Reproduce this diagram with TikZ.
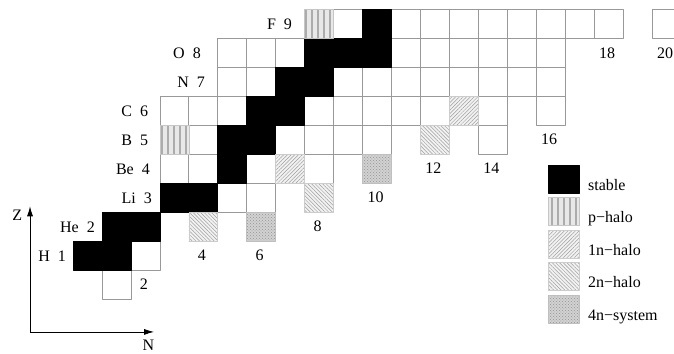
\documentclass[tikz,border=0pt]{standalone}
\usepackage{fontspec}
\setmainfont{Liberation Serif}
\usetikzlibrary{arrows.meta,patterns,patterns.meta}

\begin{document}
\begin{tikzpicture}[
    x=28.95pt,
    y=28.95pt,
    font=\fontsize{16}{19}\selectfont,
    line join=round,
    emptycell/.style={draw=gray!80, line width=0.7pt, fill=white},
    stablecell/.style={draw=black, line width=0.7pt, fill=black},
    phalo/.style={draw=gray!45, line width=0.6pt, preaction={fill=gray!18},
        pattern={Lines[angle=90,distance=6pt,line width=1.8pt]}, pattern color=gray!65},
    onehalo/.style={draw=gray!40, line width=0.6pt, preaction={fill=gray!10},
        pattern={Lines[angle=45,distance=2.6pt,line width=0.5pt]}, pattern color=gray!75},
    twohalo/.style={draw=gray!40, line width=0.6pt, preaction={fill=gray!10},
        pattern={Lines[angle=-45,distance=2.6pt,line width=0.5pt]}, pattern color=gray!75},
    fournsys/.style={draw=gray!50, line width=0.6pt, preaction={fill=gray!35},
        pattern=crosshatch dots, pattern color=gray!85}
]
    \clip (-2.522,-1.902) rectangle (20.76,10.326);

    % 空格子 (N/Z)
    \foreach \n/\z in {1/0, 2/1, 5/3, 6/3, 3/4, 4/4, 6/4, 8/4,
        4/5, 7/5, 8/5, 9/5, 10/5, 14/5,
        3/6, 4/6, 5/6, 8/6, 9/6, 10/6, 11/6, 12/6, 14/6, 16/6,
        5/7, 6/7, 9/7, 10/7, 11/7, 12/7, 13/7, 14/7, 15/7, 16/7,
        5/8, 6/8, 7/8, 11/8, 12/8, 13/8, 14/8, 15/8, 16/8,
        9/9, 11/9, 12/9, 13/9, 14/9, 15/9, 16/9, 17/9, 18/9, 20/9}
        \draw[emptycell] (\n,\z) rectangle ++(1,1);

    % 稳定核
    \foreach \n/\z in {0/1, 1/1, 1/2, 2/2, 3/3, 4/3, 5/4, 5/5, 6/5,
        6/6, 7/6, 7/7, 8/7, 8/8, 9/8, 10/8, 10/9}
        \draw[stablecell] (\n,\z) rectangle ++(1,1);

    % 晕核
    \foreach \n/\z in {3/5, 8/9} \draw[phalo] (\n,\z) rectangle ++(1,1);
    \foreach \n/\z in {7/4, 13/6} \draw[onehalo] (\n,\z) rectangle ++(1,1);
    \foreach \n/\z in {4/2, 8/3, 12/5} \draw[twohalo] (\n,\z) rectangle ++(1,1);
    \foreach \n/\z in {6/2, 10/4} \draw[fournsys] (\n,\z) rectangle ++(1,1);

    % 元素
    \foreach \sym/\z/\xr in {H/1/-0.24, He/2/0.76, Li/3/2.73, Be/4/2.66, B/5/2.6,
        C/6/2.6, N/7/4.56, O/8/4.42, F/9/7.57}
        \node[anchor=east, inner sep=0pt] (el\z) at (\xr,\z+0.47) {\sym\enspace\z};

    % 中子数
    \foreach \n/\z in {2/0, 4/1, 6/1, 8/2, 10/3, 12/4, 14/4, 16/5, 18/8, 20/8}
        \node[inner sep=0pt] (nn\n) at (\n+0.45,\z+0.5) {\n};

    % 坐标轴
    \coordinate (orig) at (-1.485,-1.14);
    \coordinate (zend) at (-1.485,3.2);
    \coordinate (nend) at (2.8,-1.14);
    \draw[line width=0.8pt, -{Latex[length=10pt,width=6pt]}] (orig) -- (zend);
    \draw[line width=0.8pt, -{Latex[length=10pt,width=6pt]}] (orig) -- (nend);
    \node (zlab) at (-1.93,2.9) {Z};
    \node (nlab) at (2.6,-1.6) {N};

    % 图例
    \foreach \sty/\txt [count=\k from 0] in {stablecell/stable, phalo/p−halo,
        onehalo/1n−halo, twohalo/2n−halo, fournsys/4n−system} {
        \draw[\sty] (16.41,4.627-1.123*\k) rectangle ++(1.07,-0.97);
        \node[anchor=base west, inner sep=0pt] (leg\k) at (17.79,4.627-1.123*\k-0.87) {\txt};
    }
\end{tikzpicture}
\end{document}
